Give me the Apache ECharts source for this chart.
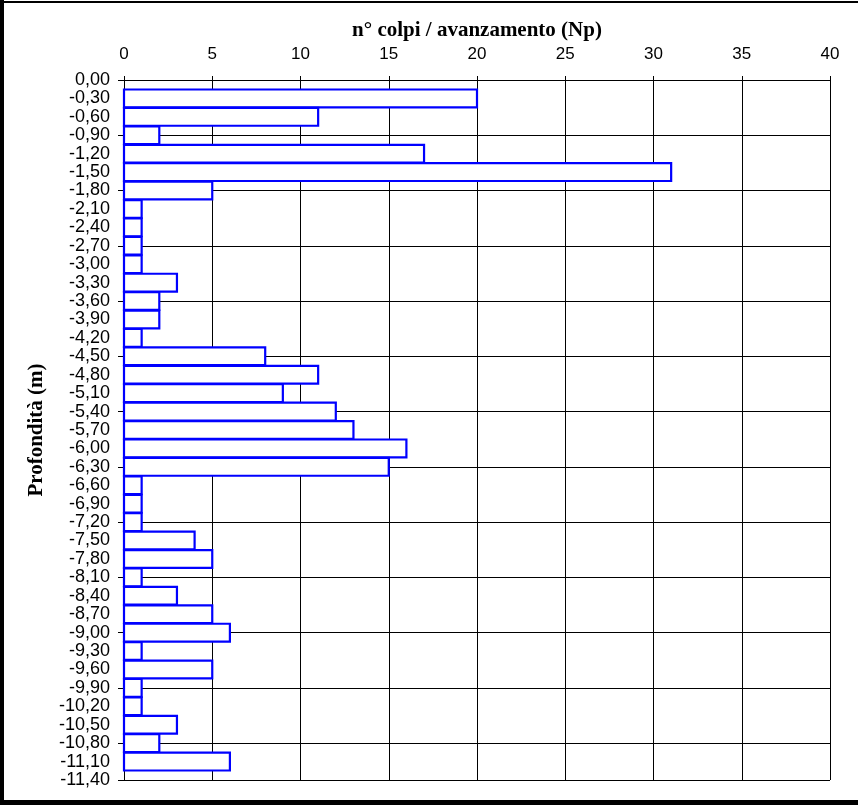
<!DOCTYPE html>
<html>
<head>
<meta charset="utf-8">
<script src="https://cdn.jsdelivr.net/npm/echarts@6/dist/echarts.min.js"></script>
<style>
html,body{margin:0;padding:0;background:#fff;}
#chart{width:858px;height:805px;}
</style>
</head>
<body>
<div id="chart"></div>
<script>
// Depths (m, positive downward; labels are shown negative)
const depths = [0.3,0.6,0.9,1.2,1.5,1.8,2.1,2.4,2.7,3.0,3.3,3.6,3.9,4.2,4.5,4.8,5.1,5.4,5.7,6.0,6.3,6.6,6.9,7.2,7.5,7.8,8.1,8.4,8.7,9.0,9.3,9.6,9.9,10.2,10.5,10.8,11.1];
// n° colpi / avanzamento (Np)
const blows = [20,11,2,17,31,5,1,1,1,1,3,2,2,1,8,11,9,12,13,16,15,1,1,1,4,5,1,3,5,6,1,5,1,1,3,2,6];
const xTitle = 'n° colpi / avanzamento (Np)';
const yTitle = 'Profondità (m)';
const xMin = 0, xMax = 40, xStep = 5;
const depthMin = 0, depthMax = 11.4, labelStep = 0.3, gridStep = 0.9;

const chart = echarts.init(document.getElementById('chart'), null, {renderer: 'canvas'});
const data = depths.map((d, i) => [blows[i], d]);

function depthLabel(v) {
  if (Math.abs(v) < 1e-9) return '0,00';
  return '-' + v.toFixed(2).replace('.', ',');
}

const option = {
  backgroundColor: '#fff',
  animation: false,
  grid: {left: 124, top: 80, right: 28, bottom: 25, containLabel: false},
  xAxis: {
    type: 'value', position: 'top', min: xMin, max: xMax, interval: xStep,
    name: xTitle, nameLocation: 'middle', nameGap: 39,
    nameTextStyle: {fontFamily: 'Liberation Serif', fontWeight: 'bold', fontSize: 21, color: '#000'},
    axisLine: {show: true, lineStyle: {color: '#000', width: 1}},
    axisTick: {show: true, inside: false, length: 4, lineStyle: {color: '#000'}},
    axisLabel: {fontFamily: 'Liberation Sans', fontSize: 17, color: '#000', margin: 17},
    splitLine: {show: true, lineStyle: {color: '#000', width: 1}}
  },
  yAxis: [{
    type: 'value', inverse: true, position: 'left', min: depthMin, max: depthMax, interval: gridStep,
    name: yTitle, nameLocation: 'middle', nameGap: 77, nameRotate: 90,
    nameTextStyle: {fontFamily: 'Liberation Serif', fontWeight: 'bold', fontSize: 21, color: '#000'},
    axisLine: {show: true, lineStyle: {color: '#000', width: 1}},
    axisTick: {show: true, inside: false, length: 6, lineStyle: {color: '#000'}},
    axisLabel: {show: false},
    splitLine: {show: true, lineStyle: {color: '#000', width: 1}}
  }, {
    type: 'value', inverse: true, position: 'left', offset: 0, min: depthMin, max: depthMax, interval: labelStep,
    axisLine: {show: false}, axisTick: {show: false}, splitLine: {show: false},
    axisLabel: {show: true, fontFamily: 'Liberation Sans', fontSize: 18, color: '#000', margin: 14,
      formatter: depthLabel}
  }],
  series: [{
    type: 'custom',
    xAxisIndex: 0, yAxisIndex: 0,
    data: data,
    encode: {x: 0, y: 1},
    renderItem: function (params, api) {
      const v = api.value(0), d = api.value(1);
      const p0 = api.coord([0, d - 0.145]);
      const p1 = api.coord([v, d + 0.145]);
      return {
        type: 'rect',
        shape: {x: p0[0], y: p0[1], width: p1[0] - p0[0], height: p1[1] - p0[1]},
        style: {fill: '#ffffff', stroke: '#0000ff', lineWidth: 2.2}
      };
    }
  }],
  graphic: [
    {type: 'rect', left: 0, top: 0, shape: {width: 4, height: 805}, style: {fill: '#000'}, z: 100},
    {type: 'rect', left: 0, top: 800, shape: {width: 858, height: 5}, style: {fill: '#000'}, z: 100},
    {type: 'rect', left: 0, top: 1, shape: {width: 858, height: 2}, style: {fill: '#000'}, z: 100}
  ]
};
chart.setOption(option);
</script>
</body>
</html>
